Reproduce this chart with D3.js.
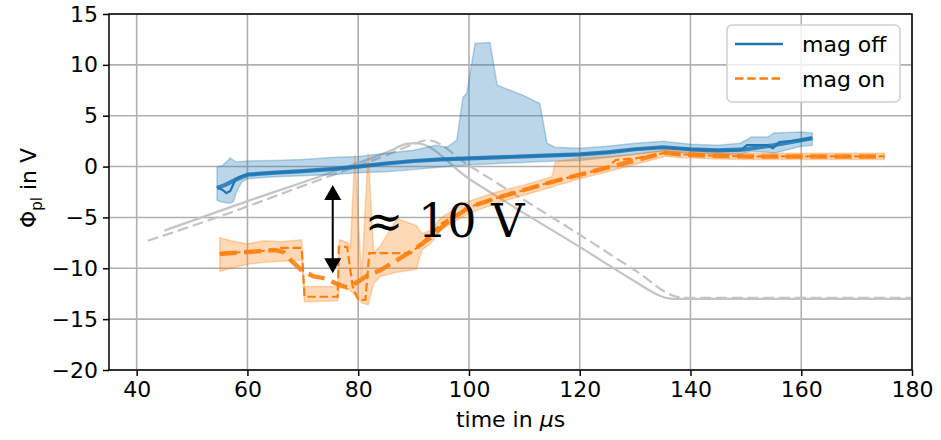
<!DOCTYPE html>
<html>
<head>
<meta charset="utf-8">
<script src="https://cdn.jsdelivr.net/npm/d3@7"></script>
<style>
  html, body { margin: 0; padding: 0; background: #fff; }
  svg { display: block; }
  text { font-family: "DejaVu Sans", sans-serif; }
</style>
</head>
<body>
<svg id="chart" width="941" height="440"></svg>
<script>
// Axis ticks
const xTicks = [40, 60, 80, 100, 120, 140, 160, 180];
const yTicks = [-20, -15, -10, -5, 0, 5, 10, 15];

// Reference potential curves (grey)
const refSolidT = [45, 60, 75, 86, 88.5, 90.5, 100, 110, 120, 130, 134.5, 136, 137.5, 150, 180];
const refSolidV = [-6.3, -3.4, -0.6, 1.6, 2.2, 2.3, -1.2, -4.6, -7.9, -11.3, -12.7, -12.95, -13.0, -13.0, -13.0];
const refDashT = [42, 55, 70, 85, 90.5, 92.5, 100, 110, 120, 130, 137.5, 139, 150, 180];
const refDashV = [-7.3, -4.9, -1.9, 1.1, 2.3, 2.6, 0.1, -3.3, -6.7, -10.2, -12.8, -12.9, -12.9, -12.9];

// mag off: raw mean, smoothed mean, spread band
const offT = [54.5, 55.5, 56.2, 56.9, 57.8, 58.7, 60, 65, 70, 75, 80, 85, 90, 95, 100, 105, 110, 115, 120, 125, 130, 135, 140, 145, 149, 150.2, 152, 153.8, 154.9, 156, 158, 160, 162];
const offRaw = [-2.0, -2.3, -2.6, -2.4, -1.3, -1.0, -0.8, -0.6, -0.45, -0.25, 0.0, 0.3, 0.55, 0.7, 0.8, 0.9, 1.0, 1.1, 1.2, 1.4, 1.7, 1.9, 1.7, 1.6, 1.6, 2.1, 2.1, 2.1, 1.8, 2.4, 2.5, 2.6, 2.8];
const offSmT = [54.5, 56, 57.8, 60, 65, 70, 75, 80, 85, 90, 95, 100, 105, 110, 115, 120, 125, 130, 135, 140, 145, 150, 155, 160, 162];
const offSm = [-2.1, -1.8, -1.3, -0.8, -0.6, -0.45, -0.25, 0.0, 0.3, 0.55, 0.7, 0.8, 0.9, 1.0, 1.1, 1.2, 1.4, 1.7, 1.9, 1.7, 1.6, 1.7, 2.1, 2.6, 2.8];
const offBandT = [54.5, 55.5, 56.9, 57.5, 58, 59, 60, 65, 70, 75, 80, 85, 90, 94, 96, 97.8, 98.9, 99.6, 101.1, 103.8, 105.1, 109.8, 112.8, 114.1, 115.5, 120, 125, 130, 135, 140, 145, 149, 151, 154, 155, 160, 162];
const offLo = [-3.3, -3.5, -3.6, -3.4, -2.5, -1.5, -1.2, -1.0, -0.9, -0.8, -0.6, -0.5, -0.3, -0.1, 0.0, 0.1, 0.1, 0.15, 0.2, 0.25, 0.3, 0.4, 0.5, 0.5, 0.55, 0.6, 0.9, 1.2, 1.5, 1.3, 1.2, 1.2, 1.5, 1.4, 1.3, 2.0, 2.1];
const offHi = [-0.05, 0.1, 0.84, 0.6, 0.45, 0.5, 0.55, 0.6, 0.7, 0.9, 1.0, 1.3, 1.6, 2.1, 1.9, 2.6, 6.8, 7.2, 12.1, 12.2, 8.0, 7.0, 6.2, 2.3, 1.9, 1.8, 2.0, 2.3, 2.5, 2.2, 2.1, 2.3, 2.9, 2.9, 3.3, 3.4, 3.3];

// mag on: raw mean, smoothed mean, spread band
const onT = [55, 60, 65, 66, 69.8, 70.3, 76.3, 76.5, 78.0, 79.0, 80.0, 81.3, 82.0, 89.5, 91, 95, 100, 105, 110, 115, 120, 125, 126.5, 130, 135.4, 138, 145, 150, 160, 175];
const onRaw = [-8.5, -8.4, -8.2, -8.0, -8.0, -12.8, -12.8, -7.9, -7.9, -11.8, -13.1, -13.1, -8.5, -8.5, -7.8, -5.6, -4.0, -3.1, -2.3, -1.5, -0.8, -0.1, 0.65, 0.8, 1.35, 1.2, 1.05, 1.0, 1.0, 1.0];
const onSmT = [55, 60, 65, 66.5, 68, 70, 72, 74, 76, 78, 80, 82, 84, 87, 90, 93, 96, 100, 105, 110, 115, 120, 125, 130, 135.4, 138, 145, 150, 160, 175];
const onSm = [-8.6, -8.4, -8.2, -8.4, -9.3, -10.3, -10.8, -11.0, -11.5, -11.9, -11.3, -10.6, -10.2, -9.2, -8.2, -7.0, -5.5, -4.0, -3.1, -2.3, -1.5, -0.8, -0.1, 0.6, 1.35, 1.2, 1.05, 1.0, 1.0, 1.0];
const onBandT = [55, 57, 60, 63, 66, 69.8, 70.3, 76.3, 76.6, 78.2, 78.6, 79.4, 80.6, 81.8, 82.8, 84, 87, 90.5, 91.5, 93, 95, 100, 105, 110, 115, 115.6, 120, 125, 130, 135.4, 138, 145, 150, 160, 175];
const onLo = [-10.3, -10.0, -9.6, -9.4, -9.3, -9.2, -13.3, -13.2, -11.9, -12.0, -12.2, -12.6, -13.4, -13.6, -11.5, -10.8, -10.4, -10.1, -8.2, -7.6, -6.2, -4.6, -3.6, -2.8, -2.0, -1.9, -1.2, -0.5, 0.2, 1.0, 0.9, 0.75, 0.7, 0.7, 0.7];
const onHi = [-7.0, -7.3, -7.6, -7.3, -7.4, -7.2, -11.8, -11.8, -7.2, -7.5, -7.9, 1.2, -10.9, 1.3, -8.5, -7.8, -5.1, -5.8, -6.6, -6.3, -5.0, -3.4, -2.5, -1.8, -1.0, 0.45, 0.85, 1.0, 1.2, 1.65, 1.5, 1.35, 1.3, 1.3, 1.3];

// Annotated potential gap
const gapT = 75.4, gapTop = -1.8, gapBottom = -10.5;
const gapLabel = "≈ 10 V";

const svg = d3.select("#chart");
const W = 941, H = 440;
const m = { left: 109, right: W - 912, top: 14, bottom: H - 370 };

const x = d3.scaleLinear().domain([35, 180]).range([m.left, W - m.right]);
const y = d3.scaleLinear().domain([-20, 15]).range([H - m.bottom, m.top]);

const blue = "#1f77b4", orange = "#ff7f0e", grey = "#c4c4c4";
const thinDash = "8.5,3.7", thickDash = "17,7.4", greyDash = "11,4.8";

// clip to plot area
svg.append("defs").append("clipPath").attr("id", "plotclip")
  .append("rect").attr("x", x(35)).attr("y", y(15))
  .attr("width", x(180) - x(35)).attr("height", y(-20) - y(15));

// grid
const grid = svg.append("g");
grid.selectAll("line.vx").data(xTicks).join("line")
  .attr("x1", d => x(d)).attr("x2", d => x(d))
  .attr("y1", y(-20)).attr("y2", y(15))
  .attr("stroke", "#b0b0b0").attr("stroke-width", 1.6);
grid.selectAll("line.hy").data(yTicks).join("line")
  .attr("x1", x(35)).attr("x2", x(180))
  .attr("y1", d => y(d)).attr("y2", d => y(d))
  .attr("stroke", "#b0b0b0").attr("stroke-width", 1.6);

const plot = svg.append("g").attr("clip-path", "url(#plotclip)");

const zip = (ts, vs) => ts.map((t, i) => [t, vs[i]]);
const line = d3.line().x(d => x(d[0])).y(d => y(d[1]));
const smoothLine = d3.line().x(d => x(d[0])).y(d => y(d[1])).curve(d3.curveMonotoneX);
const area = d3.area().x(d => x(d.t)).y0(d => y(d.lo)).y1(d => y(d.hi));
const bandRows = (ts, lo, hi) => ts.map((t, i) => ({ t, lo: lo[i], hi: hi[i] }));

// grey reference curves
plot.append("path").datum(zip(refSolidT, refSolidV))
  .attr("d", smoothLine).attr("fill", "none")
  .attr("stroke", grey).attr("stroke-width", 2.2).attr("stroke-linejoin", "round");
plot.append("path").datum(zip(refDashT, refDashV))
  .attr("d", smoothLine).attr("fill", "none")
  .attr("stroke", grey).attr("stroke-width", 2.2).attr("stroke-dasharray", greyDash);

// bands
plot.append("path").datum(bandRows(offBandT, offLo, offHi))
  .attr("d", area).attr("fill", blue).attr("fill-opacity", 0.3)
  .attr("stroke", blue).attr("stroke-opacity", 0.3).attr("stroke-width", 1.5);
plot.append("path").datum(bandRows(onBandT, onLo, onHi))
  .attr("d", area).attr("fill", orange).attr("fill-opacity", 0.3)
  .attr("stroke", orange).attr("stroke-opacity", 0.3).attr("stroke-width", 1.5);

// smoothed means
plot.append("path").datum(zip(offSmT, offSm))
  .attr("d", line).attr("fill", "none").attr("stroke", blue)
  .attr("stroke-width", 4.2).attr("stroke-opacity", 0.85).attr("stroke-linejoin", "round");
plot.append("path").datum(zip(onSmT, onSm))
  .attr("d", line).attr("fill", "none").attr("stroke", orange)
  .attr("stroke-width", 4.5).attr("stroke-opacity", 0.9).attr("stroke-dasharray", thickDash);

// raw means
plot.append("path").datum(zip(offT, offRaw))
  .attr("d", line).attr("fill", "none").attr("stroke", blue)
  .attr("stroke-width", 2.2).attr("stroke-linejoin", "round");
plot.append("path").datum(zip(onT, onRaw))
  .attr("d", line).attr("fill", "none").attr("stroke", orange)
  .attr("stroke-width", 2.2).attr("stroke-dasharray", thinDash);

// double-headed arrow
const ax = x(gapT), ay1 = y(gapTop), ay2 = y(gapBottom);
const headL = 15, headW = 8.5;
svg.append("line").attr("x1", ax).attr("x2", ax)
  .attr("y1", ay1 + headL - 2).attr("y2", ay2 - headL + 2)
  .attr("stroke", "#000").attr("stroke-width", 2);
svg.append("path").attr("d", `M${ax},${ay1} L${ax - headW},${ay1 + headL} L${ax + headW},${ay1 + headL} Z`).attr("fill", "#000");
svg.append("path").attr("d", `M${ax},${ay2} L${ax - headW},${ay2 - headL} L${ax + headW},${ay2 - headL} Z`).attr("fill", "#000");
svg.append("text").attr("x", x(81.2)).attr("y", y(-6.9))
  .style("font-family", "'DejaVu Serif', 'Liberation Serif', serif")
  .style("font-size", "46px").attr("fill", "#000").text(gapLabel);

// spines
svg.append("rect").attr("x", x(35)).attr("y", y(15))
  .attr("width", x(180) - x(35)).attr("height", y(-20) - y(15))
  .attr("fill", "none").attr("stroke", "#000").attr("stroke-width", 1.5);

// axes
const xAxis = svg.append("g").attr("transform", `translate(0,${y(-20)})`)
  .call(d3.axisBottom(x).tickValues(xTicks).tickSize(6).tickPadding(5));
const yAxis = svg.append("g").attr("transform", `translate(${x(35)},0)`)
  .call(d3.axisLeft(y).tickValues(yTicks).tickSize(6).tickPadding(5)
    .tickFormat(d => d < 0 ? "\u2212" + Math.abs(d) : d));
[xAxis, yAxis].forEach(g => {
  g.select(".domain").remove();
  g.selectAll(".tick line").attr("stroke", "#000").attr("stroke-width", 1.5);
  g.selectAll(".tick text").attr("fill", "#000")
    .style("font-family", "'DejaVu Sans', sans-serif").style("font-size", "22px");
});

// axis labels
const xl = svg.append("text").attr("x", (x(35) + x(180)) / 2).attr("y", 427)
  .attr("text-anchor", "middle").style("font-size", "22px");
xl.append("tspan").text("time in ");
xl.append("tspan").style("font-style", "italic").text("\u03bc");
xl.append("tspan").text("s");

const yl = svg.append("text")
  .attr("transform", `translate(36,188) rotate(-90)`)
  .attr("text-anchor", "middle").style("font-size", "22px");
yl.append("tspan").text("\u03a6");
yl.append("tspan").attr("dy", 6).style("font-size", "15px").text("pl");
yl.append("tspan").attr("dy", -6).text(" in V");

// legend
const lg = svg.append("g");
lg.append("rect").attr("x", 727).attr("y", 25).attr("width", 173).attr("height", 77)
  .attr("rx", 5).attr("fill", "#fff").attr("fill-opacity", 0.8)
  .attr("stroke", "#d0d0d0").attr("stroke-width", 1.5);
const legendItems = [
  { label: "mag off", color: blue, dash: null },
  { label: "mag on", color: orange, dash: thinDash }
];
legendItems.forEach((it, i) => {
  const cy = 44 + i * 34.5;
  lg.append("line").attr("x1", 735).attr("x2", 783).attr("y1", cy).attr("y2", cy)
    .attr("stroke", it.color).attr("stroke-width", 2.5)
    .attr("stroke-dasharray", it.dash);
  lg.append("text").attr("x", 802).attr("y", cy + 8).style("font-size", "22px")
    .attr("fill", "#000").text(it.label);
});
</script>
</body>
</html>
